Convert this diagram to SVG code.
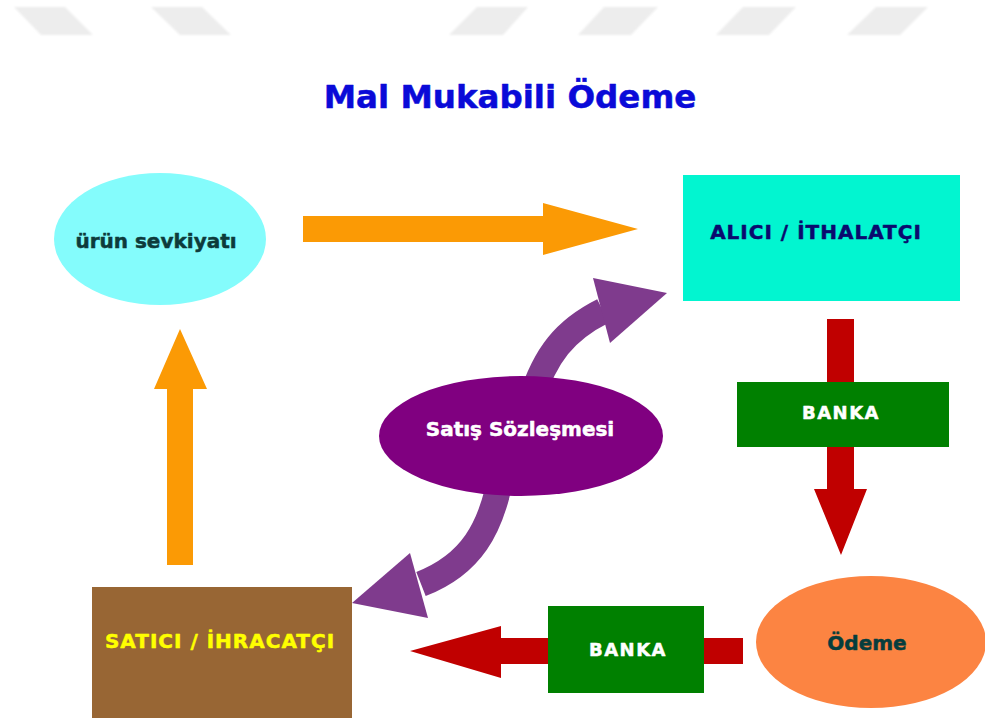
<svg xmlns="http://www.w3.org/2000/svg" width="985" height="720" viewBox="0 0 985 720">
<defs>
<style>
.t{font-family:"DejaVu Sans","Verdana",sans-serif;font-weight:bold;text-anchor:middle;stroke-width:0.5;stroke-linejoin:round}
.deco{fill:#ededed}
.orange{fill:#fb9a05}
.red{fill:#c00000}
.purple{fill:#7f3b8d}
.green{fill:#008000}
</style>
<filter id="soft" x="-10%" y="-30%" width="120%" height="160%"><feGaussianBlur stdDeviation="0.8"/></filter>
</defs>
<rect width="985" height="720" fill="#ffffff"/>
<g id="decor" filter="url(#soft)">
<polygon class="deco" points="14,7 65,7 93,35 41,35"/>
<polygon class="deco" points="151,7 202,7 231,35 180,35"/>
<polygon class="deco" points="477,7 528,7 503,35 449,35"/>
<polygon class="deco" points="604,7 658,7 631,35 578,35"/>
<polygon class="deco" points="743,7 796,7 769,35 716,35"/>
<polygon class="deco" points="876,7 928,7 900,35 847,35"/>
</g>
<text id="title" class="t" x="510" y="108" font-size="32.5" fill="#0a0ad8" stroke="#0a0ad8">Mal Mukabili Ödeme</text>
<g id="connectors">
<polygon class="orange" points="303,216 543,216 543,203 638,229 543,255 543,242 303,242"/>
<polygon class="orange" points="167,565 167,389 154,389 180,329 207,389 193,389 193,565"/>
<polygon class="red" points="827,319 854,319 854,489 867,489 841,555 814,489 827,489"/>
<polygon class="red" points="743,638 743,664 501,664 501,678 410,651 501,626 501,638"/>
<path d="M531 400 C545 355 565 330 603 311" fill="none" stroke="#7f3b8d" stroke-width="26"/>
<polygon class="purple" points="593,278 667,293 610,343"/>
<path d="M502 470 C492 530 470 565 421 584" fill="none" stroke="#7f3b8d" stroke-width="26"/>
<polygon class="purple" points="410,553 352,603 428,618"/>
</g>
<g id="urun-sevkiyati">
<ellipse cx="160" cy="239" rx="106" ry="66" fill="#84fcfc"/>
<text class="t" x="156" y="248" font-size="20" fill="#0d3b3b" stroke="#0d3b3b">ürün sevkiyatı</text>
</g>
<g id="alici-ithalatci">
<rect x="683" y="175" width="277" height="126" fill="#02f5d0"/>
<text class="t" x="816" y="239" font-size="20" letter-spacing="1" fill="#0a0a6e" stroke="#0a0a6e">ALICI / İTHALATÇI</text>
</g>
<g id="banka-1">
<rect x="737" y="382" width="212" height="65" class="green"/>
<text class="t" x="841" y="419" font-size="18" letter-spacing="1.5" fill="#ffffff" stroke="#ffffff">BANKA</text>
</g>
<g id="satis-sozlesmesi">
<ellipse cx="521" cy="436" rx="142" ry="60" fill="#800080"/>
<text class="t" x="520" y="436" font-size="20" fill="#ffffff" stroke="#ffffff">Satış Sözleşmesi</text>
</g>
<g id="odeme">
<ellipse cx="871" cy="642" rx="115" ry="66" fill="#fc8442"/>
<text class="t" x="867" y="650" font-size="20" fill="#063d3d" stroke="#063d3d">Ödeme</text>
</g>
<g id="banka-2">
<rect x="548" y="606" width="156" height="87" class="green"/>
<text class="t" x="628" y="656" font-size="18" letter-spacing="1.5" fill="#ffffff" stroke="#ffffff">BANKA</text>
</g>
<g id="satici-ihracatci">
<rect x="92" y="587" width="260" height="131" fill="#986634"/>
<text class="t" x="220" y="648" font-size="20" letter-spacing="1" fill="#ffff00" stroke="#ffff00">SATICI / İHRACATÇI</text>
</g>
</svg>
